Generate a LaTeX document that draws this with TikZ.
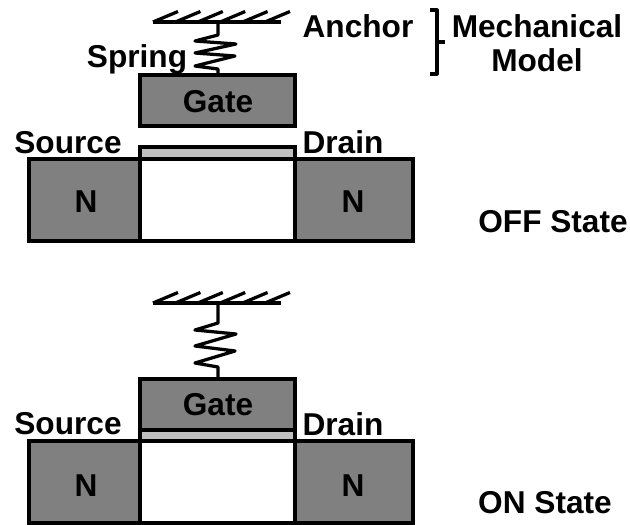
\documentclass[tikz,border=0pt]{standalone}
\usepackage{fontspec}
\setmainfont{Liberation Sans}
\usetikzlibrary{calc}
\tikzset{
	wall/.style={line width=0.07cm},
	thin wall/.style={line width=0.065cm},
	label text/.style={font=\bfseries\fontsize{18}{21}\selectfont, inner sep=0pt}
}
\def\ceiling(#1){\draw[thin wall] ($(#1)+(-65,0)$) -- ($(#1)+(63,0)$);
	\foreach \i in {0,...,5} {\draw[thin wall] ($(#1)+(-65+22.4*\i,0)$) -- ($(#1)+(-40+22.4*\i,-10.5)$);}}

\begin{document}
\begin{tikzpicture}[x=0.02cm,y=-0.02cm]
				\useasboundingbox (0, 0) rectangle (630, 525);
				
				% OFF state
				\ceiling(218, 22)
				\draw[thin wall, line join=round] (218, 22) -- (218, 35) -- (195, 41) -- (236, 44) -- (195, 53) -- (235, 56) -- (195, 66) -- (218, 69) -- (218, 75);
				\draw[wall, fill=black!50] (140, 75) rectangle (295, 126);
				\draw[wall, fill=black!25] (140, 147) rectangle (295, 159);
				\draw[wall, fill=white] (140, 159) rectangle (295, 241);
				\draw[wall, fill=black!50] (29, 159) rectangle (140, 241);
				\draw[wall, fill=black!50] (295, 159) rectangle (413, 241);
				
				\draw[thin wall, line join=round] (430, 10) -- (437, 10) -- (437, 74) -- (430, 74);
				\draw[thin wall] (437, 42) -- (445, 42);
				
				\node[label text] (anchor) at (358, 26) {Anchor};
				\node[label text] (mech) at (537, 26) {Mechanical};
				\node[label text] (model) at (537, 60) {Model};
				\node[label text] (spring) at (137, 59) {Spring};
				\node[label text] (gateOff) at (218, 102) {Gate};
				\node[label text] (sourceOff) at (68, 143) {Source};
				\node[label text] (drainOff) at (343, 142) {Drain};
				\node[label text] (nLeftOff) at (86, 202) {N};
				\node[label text] (nRightOff) at (353, 202) {N};
				\node[label text] (offState) at (553, 222) {OFF State};
				
				% ON state
				\ceiling(218, 303)
				\draw[thin wall, line join=round] (218, 303) -- (218, 323) -- (195, 330) -- (236, 334) -- (195, 346) -- (235, 351) -- (195, 363) -- (218, 367) -- (218, 379);
				\draw[wall, fill=black!50] (140, 379) rectangle (295, 430);
				\draw[wall, fill=black!25] (140, 430) rectangle (295, 441);
				\draw[wall, fill=white] (140, 441) rectangle (295, 523);
				\draw[wall, fill=black!50] (29, 441) rectangle (140, 523);
				\draw[wall, fill=black!50] (295, 441) rectangle (413, 523);
				
				\node[label text] (gateOn) at (218, 405) {Gate};
				\node[label text] (sourceOn) at (68, 424) {Source};
				\node[label text] (drainOn) at (343, 424) {Drain};
				\node[label text] (nLeftOn) at (86, 486) {N};
				\node[label text] (nRightOn) at (353, 486) {N};
				\node[label text] (onState) at (545, 503) {ON State};
			\end{tikzpicture}
\end{document}
